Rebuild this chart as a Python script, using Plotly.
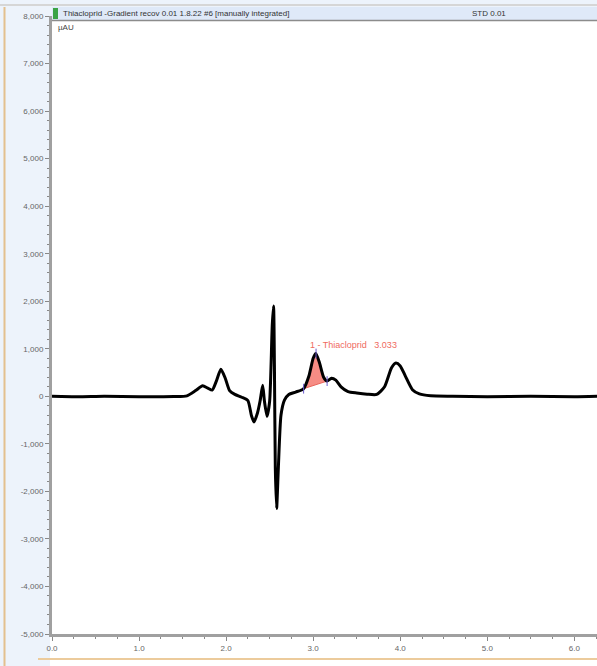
import plotly.graph_objects as go

# Chromatogram trace (retention time in min, signal in µAU)
time_min = [0.00, 0.30, 0.60, 1.00, 1.40, 1.55, 1.65, 1.73, 1.79, 1.84, 1.89, 1.94, 1.99, 2.04,
            2.10, 2.18, 2.25, 2.29, 2.32, 2.36, 2.39, 2.42, 2.44, 2.47, 2.50, 2.53, 2.545, 2.555,
            2.565, 2.58, 2.60, 2.63, 2.67, 2.72, 2.80, 2.89, 2.95, 3.00, 3.03, 3.07, 3.12, 3.16,
            3.21, 3.26, 3.32, 3.40, 3.50, 3.62, 3.73, 3.82, 3.90, 3.95, 4.00, 4.06, 4.14, 4.22,
            4.35, 4.60, 5.00, 5.50, 6.00, 6.26]
signal_uau = [0, -10, 0, -10, -5, 10, 120, 220, 170, 130, 330, 570, 380, 120,
              40, -20, -90, -400, -540, -350, -100, 230, -100, -420, -100, 1500, 1900, 600,
              -1500, -2360, -1500, -400, -80, 40, 90, 160, 420, 800, 900, 720, 400, 320,
              380, 340, 200, 100, 70, 45, 40, 200, 600, 700, 640, 420, 140, 50,
              10, 0, -10, 0, -10, 0]

# Integration of peak 1
peak_name = "1 - Thiacloprid"
peak_rt = 3.033
integ_start = 2.89
integ_end = 3.16
label_y = 1075

y_ticks = [8000, 7000, 6000, 5000, 4000, 3000, 2000, 1000, 0, -1000, -2000, -3000, -4000, -5000]
x_ticks = [0, 1, 2, 3, 4, 5, 6]
header_title = "Thiacloprid -Gradient recov 0.01 1.8.22 #6 [manually integrated]"
header_right = "STD 0.01"
y_unit = "µAU"

W, H = 597, 666
ML, MT, MB = 52, 16, 32
plot_h = H - MT - MB
plot_w = W - ML


def py(p):  # pixel row -> paper y
    return 1 - (p - MT) / plot_h


def px(p):  # pixel column -> paper x
    return (p - ML) / plot_w


fig = go.Figure()

# integration fill area (curve between start and end, closed by straight baseline)
seg_t = [t for t in time_min if integ_start <= t <= integ_end]
seg_v = [v for t, v in zip(time_min, signal_uau) if integ_start <= t <= integ_end]
fill_t = seg_t + [seg_t[0]]
fill_v = seg_v + [seg_v[0]]
fig.add_trace(go.Scatter(x=fill_t, y=fill_v, mode="lines", fill="toself",
                         fillcolor="rgba(244,120,110,0.85)",
                         line=dict(color="rgba(230,90,80,0.9)", width=1),
                         hoverinfo="skip", showlegend=False))

fig.add_trace(go.Scatter(x=time_min, y=signal_uau, mode="lines",
                         line=dict(color="black", width=3, shape="spline", smoothing=0.6),
                         showlegend=False))

# integration markers
mark_t = [seg_t[0], peak_rt, seg_t[-1]]
mark_v = [seg_v[0], max(seg_v), seg_v[-1]]
fig.add_trace(go.Scatter(x=mark_t, y=mark_v, mode="markers",
                         marker=dict(symbol="line-ns", size=7,
                                     line=dict(color="#6a5acd", width=1)),
                         showlegend=False, hoverinfo="skip"))

fig.add_annotation(x=peak_rt - 0.09, y=label_y, xanchor="left", yanchor="middle",
                   text=f"{peak_name}   {peak_rt:.3f}", showarrow=False,
                   font=dict(family="Arial", size=9, color="#ef6a60"))

shapes = []
# frame backgrounds and tan lines
shapes.append(dict(type="rect", xref="paper", yref="paper", x0=px(0), x1=px(ML - 2),
                   y0=py(H), y1=py(0), fillcolor="#edf3fb", line=dict(width=0), layer="below"))
shapes.append(dict(type="rect", xref="paper", yref="paper", x0=px(ML - 2), x1=px(W),
                   y0=py(H), y1=py(636), fillcolor="#ffffff", line=dict(width=0), layer="below"))
shapes.append(dict(type="line", xref="paper", yref="paper", x0=px(4.5), x1=px(4.5),
                   y0=py(H), y1=py(7), line=dict(color="#e3c08e", width=2)))
shapes.append(dict(type="line", xref="paper", yref="paper", x0=px(38), x1=px(W),
                   y0=py(659), y1=py(659), line=dict(color="#eccb9c", width=2)))
shapes.append(dict(type="line", xref="paper", yref="paper", x0=px(0), x1=px(W),
                   y0=py(5), y1=py(5), line=dict(color="#d6d6d6", width=2)))
# header bar
shapes.append(dict(type="rect", xref="paper", yref="paper", x0=px(52), x1=px(W),
                   y0=py(20), y1=py(7), fillcolor="#dfe9f8", line=dict(width=0)))
shapes.append(dict(type="line", xref="paper", yref="paper", x0=px(52), x1=px(W),
                   y0=py(20.5), y1=py(20.5), line=dict(color="#8c8c8c", width=1.5)))
shapes.append(dict(type="rect", xref="paper", yref="paper", x0=px(53), x1=px(58),
                   y0=py(19), y1=py(8), fillcolor="#3aa345", line=dict(width=0)))
fig.update_layout(shapes=shapes)

fig.add_annotation(xref="paper", yref="paper", x=px(61), y=py(13.5), xanchor="left",
                   yanchor="middle", text=header_title, showarrow=False,
                   font=dict(family="Arial", size=8, color="#333333"))
fig.add_annotation(xref="paper", yref="paper", x=px(470), y=py(13.5), xanchor="left",
                   yanchor="middle", text=header_right, showarrow=False,
                   font=dict(family="Arial", size=8, color="#333333"))
fig.add_annotation(xref="paper", yref="paper", x=px(56), y=py(28), xanchor="left",
                   yanchor="middle", text=y_unit, showarrow=False,
                   font=dict(family="Arial", size=8, color="#444444"))

fig.update_layout(
    width=W, height=H,
    margin=dict(l=ML, r=0, t=MT, b=MB),
    paper_bgcolor="#edf3fb",
    plot_bgcolor="white",
    xaxis=dict(range=[0, 6.26], tickvals=x_ticks, ticktext=[f"{v:.1f}" for v in x_ticks],
               showgrid=False, zeroline=False, showline=True, linecolor="#a0a0a0", linewidth=3,
               ticks="outside", ticklen=4, tickcolor="#888888", tickwidth=1,
               minor=dict(dtick=0.25, tick0=0, ticks="outside", ticklen=2, tickcolor="#888888"),
               tickfont=dict(family="Arial", size=8, color="#666666")),
    yaxis=dict(range=[-5000, 8000], tickvals=y_ticks, ticktext=[f"{v:,}" for v in y_ticks],
               showgrid=False, zeroline=False, showline=True, linecolor="#a0a0a0", linewidth=3,
               ticks="outside", ticklen=4, tickcolor="#888888", tickwidth=1,
               minor=dict(dtick=200, tick0=0, ticks="outside", ticklen=2, tickcolor="#888888"),
               tickfont=dict(family="Arial", size=8, color="#666666")),
)

fig.write_html("out.html")
